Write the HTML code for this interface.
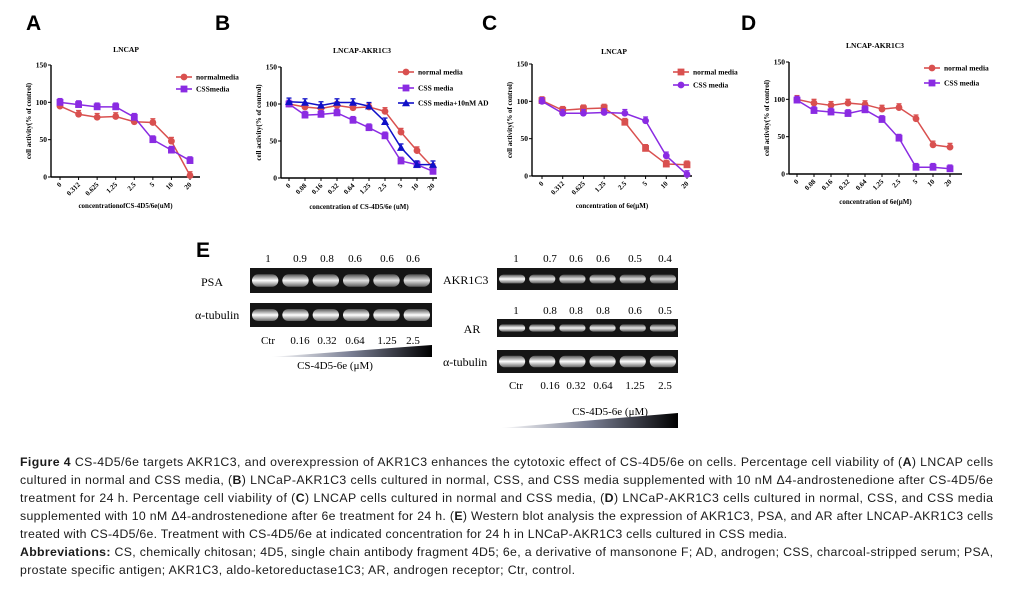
<!DOCTYPE html>
<html><head><meta charset="utf-8"><style>
body{margin:0;background:#fff;width:1018px;height:595px;overflow:hidden}
svg{display:block}
.ser{font-family:"Liberation Serif",serif}
.sans{font-family:"Liberation Sans",sans-serif}
</style></head><body>
<svg id="fig" width="1018" height="595" viewBox="0 0 1018 595" xmlns="http://www.w3.org/2000/svg">
<defs>
<linearGradient id="wedge" x1="0" x2="1" y1="0" y2="0"><stop offset="0" stop-color="#fff"/><stop offset="0.5" stop-color="#7a7f94"/><stop offset="1" stop-color="#000"/></linearGradient>
<linearGradient id="band" x1="0" x2="0" y1="0" y2="1"><stop offset="0" stop-color="#555"/><stop offset="0.5" stop-color="#fff"/><stop offset="1" stop-color="#666"/></linearGradient>
</defs>
<g id="charts"></g>
<g id="blots"></g>
<g class="sans" font-size="12.3" fill="#1a1a1a">
<text x="20" y="466" textLength="973" lengthAdjust="spacing"><tspan font-weight="bold">Figure 4</tspan> CS-4D5/6e targets AKR1C3, and overexpression of AKR1C3 enhances the cytotoxic effect of CS-4D5/6e on cells. Percentage cell viability of (<tspan font-weight="bold">A</tspan>) LNCAP cells</text>
<text x="20" y="484" textLength="973" lengthAdjust="spacing">cultured in normal and CSS media, (<tspan font-weight="bold">B</tspan>) LNCaP-AKR1C3 cells cultured in normal, CSS, and CSS media supplemented with 10 nM Δ4-androstenedione after CS-4D5/6e</text>
<text x="20" y="502" textLength="973" lengthAdjust="spacing">treatment for 24 h. Percentage cell viability of (<tspan font-weight="bold">C</tspan>) LNCAP cells cultured in normal and CSS media, (<tspan font-weight="bold">D</tspan>) LNCaP-AKR1C3 cells cultured in normal, CSS, and CSS media</text>
<text x="20" y="520" textLength="973" lengthAdjust="spacing">supplemented with 10 nM Δ4-androstenedione after 6e treatment for 24 h. (<tspan font-weight="bold">E</tspan>) Western blot analysis the expression of AKR1C3, PSA, and AR after LNCAP-AKR1C3 cells</text>
<text x="20" y="538" textLength="767" lengthAdjust="spacing">treated with CS-4D5/6e. Treatment with CS-4D5/6e at indicated concentration for 24 h in LNCaP-AKR1C3 cells cultured in CSS media.</text>
<text x="20" y="556" textLength="973" lengthAdjust="spacing"><tspan font-weight="bold">Abbreviations:</tspan> CS, chemically chitosan; 4D5, single chain antibody fragment 4D5; 6e, a derivative of mansonone F; AD, androgen; CSS, charcoal-stripped serum; PSA,</text>
<text x="20" y="574" textLength="555" lengthAdjust="spacing">prostate specific antigen; AKR1C3, aldo-ketoreductase1C3; AR, androgen receptor; Ctr, control.</text>
</g>
</svg>
<script>
// ---- data ----
const catsA = ["0","0.312","0.625","1.25","2.5","5","10","20"];
const catsB = ["0","0.08","0.16","0.32","0.64","1.25","2.5","5","10","20"];
const A_normal = [95,84,80,81,74,73,48,2];
const A_css = [100,97,94,94,80,50,36,22];
const B_normal = [100,96,94,98,95,96,90,62,37,14];
const B_css = [100,85,86,88,78,68,57,23,18,9];
const B_ad = [103,102,98,102,102,97,76,41,18,18];
const C_normal = [101,88,90,91,72,37,16,15];
const C_css = [100,84,84,85,84,74,27,2];
const D_normal = [100,95,92,95,93,87,89,74,39,36];
const D_css = [99,85,83,81,86,73,48,9,9,7];
const yTicks = [0,50,100,150];
const psaVals = ["1","0.9","0.8","0.6","0.6","0.6"];
const akrVals = ["1","0.7","0.6","0.6","0.5","0.4"];
const arVals = ["1","0.8","0.8","0.8","0.6","0.5"];
const doses = ["Ctr","0.16","0.32","0.64","1.25","2.5"];

const NS="http://www.w3.org/2000/svg";
function el(tag,attrs,parent,txt){const e=document.createElementNS(NS,tag);for(const k in attrs)e.setAttribute(k,attrs[k]);if(txt!==undefined)e.textContent=txt;parent.appendChild(e);return e;}
const RED="#d9504f",PUR="#8a2be2",BLU="#1010c8";
const charts=document.getElementById('charts');

function chart(o){
  const g=el('g',{class:'ser'},charts);
  
  
  const y=v=>o.y0+(o.y150-o.y0)*v/150;
  const n=o.cats.length;
  const x=i=>o.px0+(o.px1-o.px0)*i/(n-1);
  const lab=el('text',{x:o.lx,y:30,'font-family':'Liberation Sans,sans-serif','font-size':21,'font-weight':'bold'},g,o.letter);
  
  
  el('text',{x:o.tx,y:o.ty,'font-size':7.5,'font-weight':'bold','text-anchor':'middle'},g,o.title);
  el('line',{x1:o.ax,y1:o.y150,x2:o.ax,y2:o.y0,stroke:'#000','stroke-width':1.4},g);
  el('line',{x1:o.ax,y1:o.y0,x2:o.axEnd,y2:o.y0,stroke:'#000','stroke-width':1.4},g);
  yTicks.forEach(t=>{el('line',{x1:o.ax-3,y1:y(t),x2:o.ax,y2:y(t),stroke:'#000'},g);
    el('text',{x:o.ax-4,y:y(t)+2.5,'font-size':7.5,'font-weight':'bold','text-anchor':'end'},g,t);});
  o.cats.forEach((c,i)=>{el('line',{x1:x(i),y1:o.y0,x2:x(i),y2:o.y0+3,stroke:'#000'},g);
    el('text',{x:x(i)+2,y:o.y0+8,'font-size':7,'font-weight':'bold','text-anchor':'end',transform:`rotate(-45 ${x(i)+2} ${o.y0+8})`},g,c);});
  el('text',{x:(o.ax+o.axEnd)/2,y:o.xly,'font-size':7,'font-weight':'bold','text-anchor':'middle'},g,o.xlabel);
  const yc=(o.y0+o.y150)/2;
  el('text',{x:o.ax-20,y:yc,'font-size':7,'font-weight':'bold','text-anchor':'middle',transform:`rotate(-90 ${o.ax-20} ${yc})`},g,'cell activity(% of control)');
  o.series.forEach((s,si)=>{
    const sg=el('g',{},g);
    
    
    el('polyline',{points:s.vals.map((v,i)=>x(i)+','+y(v)).join(' '),fill:'none',stroke:s.color,'stroke-width':1.5},sg);
    s.vals.forEach((v,i)=>{
      el('line',{x1:x(i),y1:y(v),x2:x(i),y2:y(v+5),stroke:s.color,'stroke-width':1.3},sg);
      el('line',{x1:x(i)-2.5,y1:y(v+5),x2:x(i)+2.5,y2:y(v+5),stroke:s.color,'stroke-width':1.3},sg);
      marker(sg,s.m,x(i),y(v),s.color);
    });
    const ly=o.legY[si];
    el('line',{x1:o.legX,y1:ly,x2:o.legX+16,y2:ly,stroke:s.color,'stroke-width':1.6},sg);
    marker(sg,s.m,o.legX+8,ly,s.color);
    el('text',{x:o.legX+20,y:ly+2.5,'font-size':7.5,'font-weight':'bold'},sg,s.label);
  });
}
function marker(g,m,cx,cy,c){
  if(m==='c')el('circle',{cx,cy,r:3.4,fill:c},g);
  else if(m==='s')el('rect',{x:cx-3.4,y:cy-3.4,width:6.8,height:6.8,fill:c},g);
  else el('polygon',{points:`${cx},${cy-4} ${cx+4},${cy+3.2} ${cx-4},${cy+3.2}`,fill:c},g);
}
chart({name:'chart-a',letter:'A',lx:26,title:'LNCAP',tx:126,ty:52,ax:51,axEnd:200,y0:177,y150:65,px0:60,px1:190,cats:catsA,xlabel:'concentrationofCS-4D5/6e(uM)',xly:208,legX:176,legY:[77,89],
 series:[{label:'normalmedia',vals:A_normal,color:RED,m:'c'},{label:'CSSmedia',vals:A_css,color:PUR,m:'s'}]});
chart({name:'chart-b',letter:'B',lx:215,title:'LNCAP-AKR1C3',tx:362,ty:53,ax:281,axEnd:437,y0:178,y150:67,px0:289,px1:433,cats:catsB,xlabel:'concentration of CS-4D5/6e (uM)',xly:209,legX:398,legY:[72,88,103],
 series:[{label:'normal media',vals:B_normal,color:RED,m:'c'},{label:'CSS media',vals:B_css,color:PUR,m:'s'},{label:'CSS media+10nM AD',vals:B_ad,color:BLU,m:'t'}]});
chart({name:'chart-c',letter:'C',lx:482,title:'LNCAP',tx:614,ty:54,ax:532,axEnd:692,y0:176,y150:64,px0:542,px1:687,cats:catsA,xlabel:'concentration of 6e(μM)',xly:208,legX:673,legY:[72,85],
 series:[{label:'normal media',vals:C_normal,color:RED,m:'s'},{label:'CSS media',vals:C_css,color:PUR,m:'c'}]});
chart({name:'chart-d',letter:'D',lx:741,title:'LNCAP-AKR1C3',tx:875,ty:48,ax:789,axEnd:962,y0:174,y150:62,px0:797,px1:950,cats:catsB,xlabel:'concentration of 6e(μM)',xly:204,legX:924,legY:[68,83],
 series:[{label:'normal media',vals:D_normal,color:RED,m:'c'},{label:'CSS media',vals:D_css,color:PUR,m:'s'}]});

// ---- blots ----
const blots=document.getElementById('blots');
const bg=el('g',{class:'ser'},blots);


el('text',{x:196,y:257,'font-family':'Liberation Sans,sans-serif','font-size':21,'font-weight':'bold'},bg,'E');
function blot(name,x0,x1,y0,y1,lanes,thin){
  const b=el('g',{},bg);
  
  
  el('rect',{x:x0,y:y0,width:x1-x0,height:y1-y0,fill:'#151515'},b);
  const w=(x1-x0)/6;
  lanes.forEach((v,i)=>{const h=(y1-y0)*(thin?0.4:0.5);
    el('rect',{x:x0+w*i+2,y:(y0+y1)/2-h/2,width:w-4,height:h,rx:h/2,fill:'url(#band)',opacity:0.7+0.3*parseFloat(v)},b);});
}
function row(vals,xs,y,size){vals.forEach((v,i)=>el('text',{x:xs[i],y:y,'font-size':size,'text-anchor':'middle'},bg,v));}
const Lx=[268,300,327,355,387,413], Rx=[516,550,576,603,635,665];
row(psaVals,Lx,262,11);
blot('psa-blot',250,432,268,293,psaVals);
el('text',{x:212,y:286,'font-size':12,'text-anchor':'middle'},bg,'PSA');
blot('tubulin-blot-left',250,432,303,327,psaVals.map(()=>'1'));
el('text',{x:195,y:319,'font-size':12},bg,'α-tubulin');
row(doses,Lx,344,11);
el('polygon',{points:'270,357 432,345 432,357',fill:'url(#wedge)'},bg);
el('text',{x:335,y:369,'font-size':11,'text-anchor':'middle'},bg,'CS-4D5-6e (μM)');

row(akrVals,Rx,262,11);
blot('akr1c3-blot',497,678,268,290,akrVals,true);
el('text',{x:443,y:284,'font-size':12},bg,'AKR1C3');
row(arVals,Rx,314,11);
blot('ar-blot',497,678,319,337,arVals,true);
el('text',{x:472,y:333,'font-size':12,'text-anchor':'middle'},bg,'AR');
blot('tubulin-blot-right',497,678,350,373,arVals.map(()=>'1'));
el('text',{x:443,y:366,'font-size':12},bg,'α-tubulin');
row(doses,Rx,389,11);
el('text',{x:610,y:415,'font-size':11,'text-anchor':'middle'},bg,'CS-4D5-6e (μM)');
el('polygon',{points:'500,428 678,413 678,428',fill:'url(#wedge)'},bg);
</script>
</body></html>
